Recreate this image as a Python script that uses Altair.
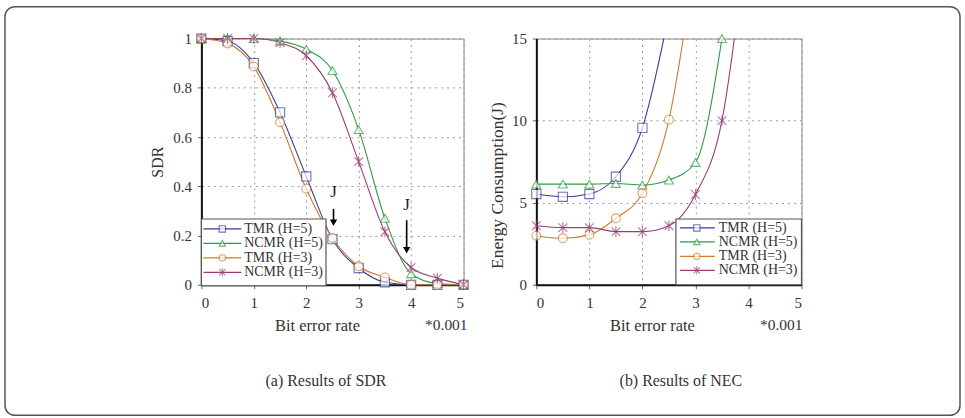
import altair as alt
import pandas as pd

# ---------------- data ----------------
series = ["TMR (H=5)", "NCMR (H=5)", "TMR (H=3)", "NCMR (H=3)"]
colors = ["#363c98", "#2e9c42", "#cf7a2c", "#9c3c72"]
shapes = ["square", "triangle-up", "circle", "M-1,-1L1,1M-1,1L1,-1M0,-1.25L0,1.25"]
sizes = [85, 75, 75, 80]

# (a) SDR
ber = [0, 0.5, 1, 1.5, 2, 2.5, 3, 3.5, 4, 4.5, 5]
sdr_tmr5 = [1.0, 0.99, 0.90, 0.70, 0.44, 0.185, 0.068, 0.01, 0.0, 0.0, 0.0]
sdr_ncmr5 = [1.0, 1.0, 1.0, 0.99, 0.957, 0.87, 0.63, 0.27, 0.045, 0.005, 0.0]
sdr_tmr3 = [1.0, 0.98, 0.886, 0.66, 0.39, 0.19, 0.075, 0.03, 0.0, 0.0, 0.0]
sdr_ncmr3 = [1.0, 1.0, 1.0, 0.983, 0.93, 0.78, 0.50, 0.215, 0.07, 0.027, 0.0]

# (b) NEC (values above 15 run out of the plot and are clipped)
nec_x_tmr5 = [0, 0.5, 1, 1.5, 2, 2.5]
nec_tmr5 = [5.53, 5.36, 5.53, 6.58, 9.56, 16.5]
nec_x_ncmr5 = [0, 0.5, 1, 1.5, 2, 2.5, 3, 3.5]
nec_ncmr5 = [6.13, 6.13, 6.13, 6.17, 6.07, 6.38, 7.45, 15.0]
nec_x_tmr3 = [0, 0.5, 1, 1.5, 2, 2.5, 3]
nec_tmr3 = [2.99, 2.83, 3.04, 4.05, 5.57, 10.06, 20.0]
nec_x_ncmr3 = [0, 0.5, 1, 1.5, 2, 2.5, 3, 3.5, 4]
nec_ncmr3 = [3.6, 3.48, 3.48, 3.24, 3.24, 3.6, 5.5, 10.0, 22.0]

# annotation arrows "J" in panel (a)
ann_x = [2.52, 3.915]
ann_label_y = [0.376, 0.324]
ann_top = [0.308, 0.262]
ann_head = [0.252, 0.14]
ann_label = ["J", "J"]

x_ticks = [0, 1, 2, 3, 4, 5]
sdr_ticks = [0, 0.2, 0.4, 0.6, 0.8, 1]
nec_ticks = [0, 5, 10, 15]

FONT = "Liberation Serif"

sdr_df = pd.DataFrame(
    [(s, x, v) for s, vals in zip(series, [sdr_tmr5, sdr_ncmr5, sdr_tmr3, sdr_ncmr3])
     for x, v in zip(ber, vals)],
    columns=["series", "ber", "val"],
)
nec_df = pd.DataFrame(
    [(s, x, v) for s, xs, vals in zip(
        series,
        [nec_x_tmr5, nec_x_ncmr5, nec_x_tmr3, nec_x_ncmr3],
        [nec_tmr5, nec_ncmr5, nec_tmr3, nec_ncmr3])
     for x, v in zip(xs, vals)],
    columns=["series", "ber", "val"],
)
ann_df = pd.DataFrame({"x": ann_x, "ly": ann_label_y, "top": ann_top,
                       "head": ann_head, "label": ann_label})

color_enc = alt.Color("series:N", scale=alt.Scale(domain=series, range=colors), legend=None)
shape_enc = alt.Shape("series:N", scale=alt.Scale(domain=series, range=shapes), legend=None)
size_enc = alt.Size("series:N", scale=alt.Scale(domain=series, range=sizes), legend=None)


def x_enc():
    return alt.X(
        "ber:Q",
        scale=alt.Scale(domain=[0, 5], nice=False, zero=False),
        axis=alt.Axis(values=x_ticks, title="Bit error rate", titleX=116, titleY=41,
                      titleBaseline="middle", titleAlign="center", titleFontSize=16.5,
                      labelPadding=7),
    )


def y_enc(domain, ticks, title, tx, ty, tsize):
    return alt.Y(
        "val:Q",
        scale=alt.Scale(domain=domain, nice=False, zero=False),
        axis=alt.Axis(values=ticks, format="~g", title=title, titleX=tx, titleY=ty,
                      titleAngle=270, titleBaseline="middle", titleAlign="center",
                      titleFontSize=tsize, labelPadding=6),
    )


def one_row(**kw):
    return alt.Data(values=[kw])


def legend_layers(box, rows_y, rule_x, mark_x, text_x):
    layers = [
        alt.Chart(one_row(k=1)).mark_rect(fill="white", stroke="#555", strokeWidth=1.2).encode(
            x=alt.value(box[0]), x2=alt.value(box[1]), y=alt.value(box[2]), y2=alt.value(box[3]))
    ]
    for s, c, sh, yy in zip(series, colors, shapes, rows_y):
        d = one_row(series=s)
        layers.append(alt.Chart(d).mark_rule(color=c, strokeWidth=1.2).encode(
            x=alt.value(rule_x[0]), x2=alt.value(rule_x[1]), y=alt.value(yy)))
        layers.append(alt.Chart(d).mark_point(filled=False, fill="white", color=c,
                                              strokeWidth=1.1, size=40, shape=sh).encode(
            x=alt.value(mark_x), y=alt.value(yy)))
        layers.append(alt.Chart(d).mark_text(font=FONT, fontSize=14, color="#333",
                                             align="left", baseline="middle").encode(
            x=alt.value(text_x), y=alt.value(yy), text="series:N"))
    return layers


def text_at(txt, x, y, size=15.5, align="center"):
    return alt.Chart(one_row(t=txt)).mark_text(font=FONT, fontSize=size, color="#333",
                                               align=align, baseline="middle").encode(
        x=alt.value(x), y=alt.value(y), text="t:N")


# ---------------- panel (a) ----------------
frame = alt.Chart(one_row(k=1)).mark_rect(fill="white", fillOpacity=0, stroke="#555",
                                          strokeWidth=1.5, cornerRadius=10).encode(
    x=alt.value(-197), x2=alt.value(761), y=alt.value(-32), y2=alt.value(378))

a_base = alt.Chart(sdr_df).encode(
    x=x_enc(), y=y_enc([0, 1], sdr_ticks, "SDR", -44, 123.5, 16), color=color_enc)
a_lines = a_base.mark_line(interpolate="monotone", strokeWidth=1.1)
a_points = a_base.mark_point(filled=False, fill="white", strokeWidth=1.1).encode(
    shape=shape_enc, size=size_enc)

ann = alt.Chart(ann_df)
a_rule = ann.mark_rule(color="black", strokeWidth=1.6).encode(
    x="x:Q", y="top:Q", y2="head:Q")
a_head = ann.mark_point(shape="triangle-down", filled=True, color="black", size=55,
                        opacity=1).encode(x="x:Q", y="head:Q")
a_lab = ann.mark_text(font=FONT, fontSize=17, color="#222").encode(
    x="x:Q", y="ly:Q", text="label:N")

panel_a = alt.layer(
    frame, a_lines, a_points, a_rule, a_head, a_lab,
    *legend_layers([0, 125, 181, 248], [191, 205.5, 220, 234.5], [2, 40], 21, 43),
    text_at("*0.001", 267, 287, align="right"),
    text_at("(a) Results of SDR", 125, 344, size=16),
).properties(width=263, height=247)

# ---------------- panel (b) ----------------
b_base = alt.Chart(nec_df).encode(
    x=x_enc(), y=y_enc([0, 15], nec_ticks, "Energy Consumption(J)", -39, 147, 17.5),
    color=color_enc)
b_lines = b_base.mark_line(interpolate="monotone", strokeWidth=1.1, clip=True)
b_points = b_base.transform_filter("datum.val <= 15").mark_point(
    filled=False, fill="white", strokeWidth=1.1).encode(shape=shape_enc, size=size_enc)

panel_b = alt.layer(
    b_lines, b_points,
    *legend_layers([140, 266, 181, 247], [190, 204, 218.5, 232.5], [144, 179], 161, 183),
    text_at("*0.001", 267, 287, align="right"),
    text_at("(b) Results of NEC", 145, 344, size=16),
).properties(width=266, height=247)

chart = alt.hconcat(panel_a, panel_b, spacing=73, bounds="flush").properties(
    padding={"left": 3, "top": 4, "right": 3, "bottom": 3},
    background="white",
).configure_view(stroke="#888", strokeWidth=1).configure_axis(
    labelFont=FONT, labelFontSize=15, labelColor="#333", titleFont=FONT, titleFontSize=16,
    titleColor="#333", titleFontWeight="normal", domainColor="#111", domainWidth=2,
    tickColor="#666", tickSize=4, grid=True, gridColor="#999",
    gridDash=[2, 4], gridWidth=1,
)

chart.save("out.html", embed_options={"renderer": "svg", "actions": False})
